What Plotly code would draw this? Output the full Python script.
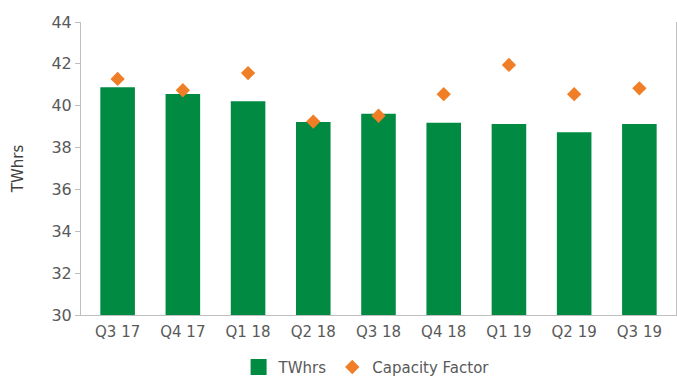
import plotly.graph_objects as go

# Quarterly generation and capacity factor
quarters = ["Q3 17", "Q4 17", "Q1 18", "Q2 18", "Q3 18", "Q4 18", "Q1 19", "Q2 19", "Q3 19"]
twhrs = [40.88, 40.56, 40.21, 39.22, 39.62, 39.19, 39.13, 38.73, 39.13]
capacity_factor = [41.28, 40.74, 41.56, 39.24, 39.52, 40.55, 41.95, 40.55, 40.83]

y_ticks = [30, 32, 34, 36, 38, 40, 42, 44]

GREEN = "#008A42"
ORANGE = "#F07E26"
TEXT = "#595959"
AXIS = "#BFBFBF"
FONT = "DejaVu Sans"

fig = go.Figure()

fig.add_trace(go.Bar(
    x=quarters, y=twhrs, name="TWhrs", legendgroup="twh", showlegend=False,
    marker=dict(color=GREEN, line=dict(width=0)),
))

# larger square swatch for the bar series in the legend
fig.add_trace(go.Scatter(
    x=[None], y=[None], name="TWhrs", legendgroup="twh",
    mode="markers",
    marker=dict(symbol="square", size=16, color=GREEN),
))

fig.add_trace(go.Scatter(
    x=quarters, y=capacity_factor, name="Capacity Factor",
    mode="markers",
    marker=dict(symbol="diamond", size=11, color=ORANGE),
))

fig.update_layout(
    width=677, height=376,
    margin=dict(l=81, r=1, t=22, b=61, autoexpand=False),
    paper_bgcolor="white", plot_bgcolor="white",
    font=dict(family=FONT, size=15, color=TEXT),
    bargap=0.47,
    showlegend=True,
    legend=dict(
        orientation="h", x=0.48, xanchor="center", y=-0.122, yanchor="top",
        font=dict(family=FONT, size=15, color=TEXT),
        itemwidth=30,
    ),
)

fig.update_xaxes(
    showline=True, linecolor=AXIS, linewidth=1,
    ticks="", showgrid=False,
    tickfont=dict(family=FONT, size=15, color=TEXT),
    ticklabelstandoff=3,
)

fig.update_yaxes(
    range=[30, 44], tickvals=y_ticks,
    showline=True, linecolor=AXIS, linewidth=1, mirror=True,
    ticks="outside", ticklen=5, tickcolor=AXIS,
    showgrid=False, zeroline=False,
    tickfont=dict(family=FONT, size=16, color=TEXT),
    title=dict(text="TWhrs", font=dict(family=FONT, size=15, color="#404040"), standoff=24),
)

fig.write_html("out.html")
